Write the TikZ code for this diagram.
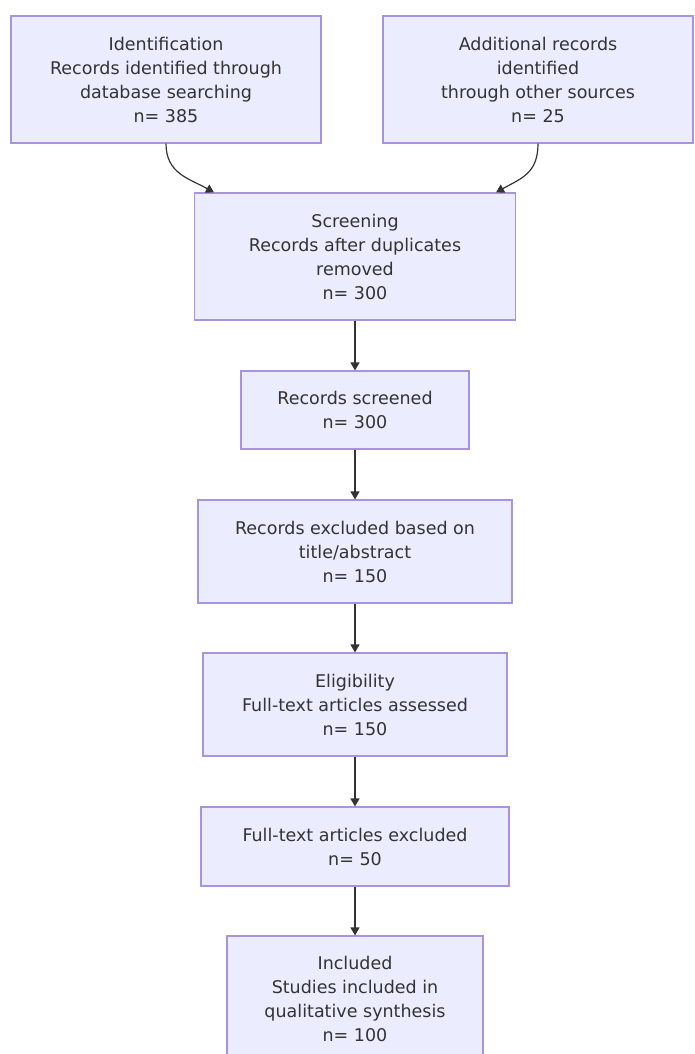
\documentclass[tikz,border=0pt]{standalone}
\usepackage{fontspec}
\setmainfont{DejaVu Sans}
\usetikzlibrary{arrows.meta}
\definecolor{boxfill}{HTML}{ECECFF}
\definecolor{boxline}{HTML}{A993DE}
\definecolor{txt}{HTML}{333333}
\tikzset{
  flowbox/.style={draw=boxline, fill=boxfill, line width=1.1pt, inner sep=0pt,
    align=center, text=txt, font=\fontsize{17.5}{24}\selectfont},
  flowedge/.style={draw=txt, line width=1.2pt, -{Triangle[length=8pt,width=9pt]}}
}
\begin{document}
\begin{tikzpicture}[x=1pt,y=-1pt]
\clip (0,0) rectangle (694,1054);
\fill[white] (0,0) rectangle (694,1054);
\node[flowbox, minimum width=310pt, minimum height=127pt] (a) at (166,79.5)
  {Identification\\Records identified through\\database searching\\n= 385};
\node[flowbox, minimum width=310pt, minimum height=127pt] (b) at (538,79.5)
  {Additional records\\identified\\through other sources\\n= 25};
\node[flowbox, minimum width=321pt, minimum height=127pt] (c) at (355,256.5)
  {Screening\\Records after duplicates\\removed\\n= 300};
\node[flowbox, minimum width=228pt, minimum height=78pt] (d) at (355,410)
  {Records screened\\n= 300};
\node[flowbox, minimum width=314pt, minimum height=103pt] (e) at (355,551.5)
  {Records excluded based on\\title/abstract\\n= 150};
\node[flowbox, minimum width=304pt, minimum height=103pt] (f) at (355,704.5)
  {Eligibility\\Full-text articles assessed\\n= 150};
\node[flowbox, minimum width=308pt, minimum height=79pt] (g) at (355,846.5)
  {Full-text articles excluded\\n= 50};
\node[flowbox, minimum width=256pt, minimum height=126pt] (h) at (355,999)
  {Included\\Studies included in\\qualitative synthesis\\n= 100};
\coordinate (ca) at ([xshift=-141pt]c.north);
\coordinate (cb) at ([xshift=141pt]c.north);
\draw[flowedge] (a.south) .. controls ([yshift=-30pt]a.south) and ([xshift=-25pt,yshift=14pt]ca) .. (ca);
\draw[flowedge] (b.south) .. controls ([yshift=-30pt]b.south) and ([xshift=25pt,yshift=14pt]cb) .. (cb);
\draw[flowedge] (c.south) -- (d.north);
\draw[flowedge] (d.south) -- (e.north);
\draw[flowedge] (e.south) -- (f.north);
\draw[flowedge] (f.south) -- (g.north);
\draw[flowedge] (g.south) -- (h.north);
\end{tikzpicture}
\end{document}
